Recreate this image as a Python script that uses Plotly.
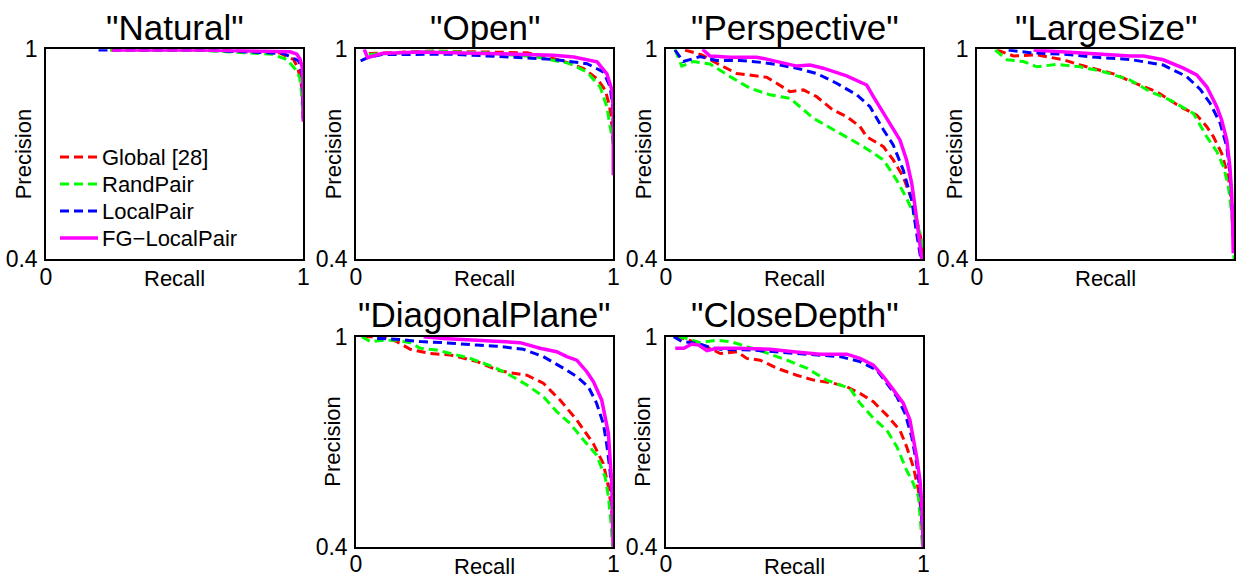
import plotly.graph_objects as go

# ---------------- data ----------------
panel_titles = ['"Natural"', '"Open"', '"Perspective"', '"LargeSize"', '"DiagonalPlane"', '"CloseDepth"']
series_names = ["Global [28]", "RandPair", "LocalPair", "FG\u2212LocalPair"]

# Natural
natural_global_r = [0.25, 0.6, 0.9, 0.962, 0.978, 0.988, 0.996, 1.0]
natural_global_p = [0.998, 0.998, 0.992, 0.971, 0.948, 0.919, 0.88, 0.80]
natural_rand_r = [0.25, 0.6, 0.878, 0.936, 0.969, 0.986, 0.991, 1.0]
natural_rand_p = [0.998, 0.997, 0.986, 0.971, 0.943, 0.919, 0.89, 0.80]
natural_local_r = [0.204, 0.6, 0.923, 0.982, 0.995, 1.0]
natural_local_p = [0.998, 0.998, 0.988, 0.967, 0.929, 0.797]
natural_fg_r = [0.256, 0.6, 0.949, 0.975, 0.988, 0.996, 0.999, 1.0]
natural_fg_p = [0.998, 0.998, 0.993, 0.986, 0.971, 0.948, 0.90, 0.793]

# Open
open_global_r = [0.05, 0.3, 0.665, 0.794, 0.885, 0.937, 0.969, 0.986, 0.995, 1.0]
open_global_p = [0.988, 0.995, 0.99, 0.969, 0.945, 0.916, 0.883, 0.836, 0.778, 0.73]
open_rand_r = [0.05, 0.3, 0.5, 0.703, 0.833, 0.898, 0.949, 0.975, 0.988, 0.999]
open_rand_p = [0.985, 0.995, 0.99, 0.978, 0.959, 0.935, 0.892, 0.836, 0.778, 0.731]
open_local_r = [0.018, 0.045, 0.1, 0.379, 0.768, 0.898, 0.962, 0.988, 0.999, 1.0]
open_local_p = [0.967, 0.976, 0.985, 0.986, 0.971, 0.959, 0.935, 0.892, 0.826, 0.74]
open_fg_r = [0.032, 0.045, 0.1, 0.249, 0.508, 0.768, 0.846, 0.937, 0.975, 0.995, 1.0, 1.0]
open_fg_p = [1.0, 0.976, 0.988, 0.992, 0.988, 0.983, 0.978, 0.964, 0.93, 0.883, 0.826, 0.64]

# Perspective
persp_global_r = [0.074, 0.139, 0.197, 0.275, 0.352, 0.391, 0.43, 0.482, 0.534, 0.585, 0.648, 0.702,
                  0.754, 0.78, 0.845, 0.883, 0.922, 0.955, 0.981, 0.997, 1.0]
persp_global_p = [0.998, 0.984, 0.96, 0.931, 0.924, 0.92, 0.903, 0.879, 0.884, 0.865, 0.827, 0.808,
                  0.779, 0.75, 0.722, 0.684, 0.636, 0.57, 0.493, 0.436, 0.4]
persp_rand_r = [0.035, 0.061, 0.106, 0.171, 0.249, 0.326, 0.404, 0.482, 0.573, 0.663, 0.767, 0.845,
                0.896, 0.935, 0.968, 0.987, 1.0]
persp_rand_p = [1.0, 0.952, 0.965, 0.958, 0.922, 0.889, 0.87, 0.86, 0.803, 0.765, 0.722, 0.684,
                0.627, 0.574, 0.522, 0.474, 0.417]
persp_local_r = [0.035, 0.067, 0.132, 0.197, 0.288, 0.378, 0.443, 0.508, 0.585, 0.663, 0.741, 0.793,
                 0.845, 0.883, 0.922, 0.955, 0.974, 0.99]
persp_local_p = [0.998, 0.965, 0.979, 0.968, 0.968, 0.962, 0.955, 0.946, 0.931, 0.903, 0.87, 0.836,
                 0.77, 0.727, 0.655, 0.57, 0.474, 0.403]
persp_fg_r = [0.142, 0.171, 0.249, 0.352, 0.378, 0.43, 0.508, 0.56, 0.611, 0.702, 0.78, 0.806,
              0.845, 0.883, 0.909, 0.935, 0.955, 0.968, 0.981, 0.994]
persp_fg_p = [1.0, 0.981, 0.977, 0.977, 0.974, 0.965, 0.952, 0.955, 0.946, 0.924, 0.898, 0.865,
              0.817, 0.774, 0.741, 0.684, 0.617, 0.55, 0.474, 0.4]

# LargeSize
large_global_r = [0.078, 0.142, 0.233, 0.337, 0.402, 0.531, 0.622, 0.699, 0.79, 0.855, 0.894, 0.92,
                  0.952, 0.978, 0.991, 0.997, 1.0]
large_global_p = [0.998, 0.981, 0.984, 0.97, 0.955, 0.93, 0.901, 0.879, 0.836, 0.812, 0.779, 0.75,
                  0.703, 0.636, 0.56, 0.474, 0.408]
large_rand_r = [0.071, 0.117, 0.181, 0.233, 0.311, 0.402, 0.492, 0.596, 0.674, 0.751, 0.842, 0.894,
                0.933, 0.959, 0.978, 0.991, 0.997, 1.0]
large_rand_p = [0.998, 0.97, 0.965, 0.95, 0.957, 0.95, 0.936, 0.912, 0.879, 0.855, 0.817, 0.75,
                0.708, 0.665, 0.608, 0.532, 0.455, 0.4]
large_local_r = [0.123, 0.207, 0.337, 0.466, 0.596, 0.725, 0.816, 0.868, 0.907, 0.946, 0.972, 0.984,
                 0.991, 0.997]
large_local_p = [0.998, 0.99, 0.986, 0.977, 0.971, 0.955, 0.922, 0.886, 0.846, 0.789, 0.722, 0.646,
                 0.57, 0.474]
large_fg_r = [0.22, 0.402, 0.596, 0.648, 0.725, 0.803, 0.855, 0.894, 0.933, 0.952, 0.972, 0.984,
              0.991, 0.995, 0.997]
large_fg_p = [0.998, 0.989, 0.981, 0.981, 0.97, 0.946, 0.927, 0.893, 0.836, 0.798, 0.741, 0.665,
              0.589, 0.493, 0.417]

# DiagonalPlane
diag_global_r = [0.03, 0.101, 0.159, 0.211, 0.288, 0.366, 0.47, 0.547, 0.599, 0.664, 0.728, 0.793,
                 0.858, 0.922, 0.961, 0.981, 0.994, 1.0]
diag_global_p = [1.0, 1.0, 0.986, 0.964, 0.952, 0.948, 0.929, 0.905, 0.897, 0.89, 0.867, 0.819,
                 0.762, 0.695, 0.638, 0.571, 0.505, 0.4]
diag_rand_r = [0.023, 0.056, 0.094, 0.159, 0.211, 0.25, 0.314, 0.366, 0.444, 0.534, 0.599, 0.664,
               0.728, 0.78, 0.832, 0.884, 0.935, 0.968, 0.981, 0.991, 0.997]
diag_rand_p = [1.0, 0.986, 0.989, 0.99, 0.983, 0.967, 0.962, 0.952, 0.938, 0.914, 0.89, 0.862,
               0.829, 0.786, 0.752, 0.705, 0.662, 0.6, 0.543, 0.467, 0.4]
diag_local_r = [0.082, 0.172, 0.25, 0.34, 0.47, 0.547, 0.651, 0.728, 0.806, 0.858, 0.903, 0.935,
                0.961, 0.974, 0.987, 0.994, 0.997]
diag_local_p = [0.995, 0.992, 0.986, 0.983, 0.976, 0.973, 0.964, 0.943, 0.91, 0.886, 0.857, 0.81,
                0.752, 0.695, 0.619, 0.552, 0.467]
diag_fg_r = [0.263, 0.34, 0.47, 0.547, 0.638, 0.715, 0.78, 0.819, 0.858, 0.897, 0.923, 0.955,
             0.968, 0.981, 0.987, 0.994, 0.997, 1.0]
diag_fg_p = [1.0, 0.995, 0.99, 0.986, 0.983, 0.967, 0.957, 0.943, 0.933, 0.9, 0.871, 0.819,
             0.771, 0.724, 0.657, 0.581, 0.486, 0.4]

# CloseDepth
close_global_r = [0.036, 0.082, 0.159, 0.211, 0.276, 0.314, 0.366, 0.431, 0.508, 0.573, 0.651, 0.703,
                  0.754, 0.806, 0.858, 0.909, 0.935, 0.961, 0.981, 0.994, 1.0]
close_global_p = [1.0, 0.992, 0.971, 0.952, 0.957, 0.938, 0.933, 0.91, 0.89, 0.876, 0.867, 0.857,
                  0.838, 0.814, 0.776, 0.733, 0.686, 0.629, 0.562, 0.486, 0.4]
close_rand_r = [0.049, 0.082, 0.133, 0.198, 0.25, 0.314, 0.379, 0.47, 0.547, 0.625, 0.715, 0.754,
                0.806, 0.858, 0.897, 0.935, 0.961, 0.981, 0.991, 0.997]
close_rand_p = [1.0, 0.995, 0.983, 0.99, 0.986, 0.971, 0.957, 0.933, 0.91, 0.876, 0.852, 0.81,
                0.767, 0.733, 0.686, 0.619, 0.581, 0.543, 0.467, 0.4]
close_local_r = [0.03, 0.062, 0.12, 0.166, 0.211, 0.34, 0.47, 0.573, 0.676, 0.754, 0.819, 0.858,
                 0.897, 0.929, 0.955, 0.974, 0.987, 0.994, 1.0]
close_local_p = [1.0, 0.986, 0.981, 0.971, 0.964, 0.962, 0.954, 0.948, 0.943, 0.929, 0.905, 0.867,
                 0.829, 0.781, 0.714, 0.638, 0.562, 0.486, 0.4]
close_fg_r = [0.036, 0.069, 0.101, 0.127, 0.159, 0.198, 0.276, 0.405, 0.495, 0.599, 0.703, 0.754,
              0.806, 0.845, 0.884, 0.922, 0.948, 0.961, 0.974, 0.987, 0.994, 1.0]
close_fg_p = [0.967, 0.967, 0.979, 0.976, 0.96, 0.967, 0.967, 0.964, 0.957, 0.95, 0.95, 0.938,
              0.919, 0.886, 0.848, 0.81, 0.762, 0.714, 0.657, 0.59, 0.524, 0.4]

x_tickvals = [0, 1]
x_ticktext = ["0", "1"]
y_tickvals = [0.4, 1]
y_ticktext = ["0.4", "1"]

panels = [
    [(natural_global_r, natural_global_p), (natural_rand_r, natural_rand_p),
     (natural_local_r, natural_local_p), (natural_fg_r, natural_fg_p)],
    [(open_global_r, open_global_p), (open_rand_r, open_rand_p),
     (open_local_r, open_local_p), (open_fg_r, open_fg_p)],
    [(persp_global_r, persp_global_p), (persp_rand_r, persp_rand_p),
     (persp_local_r, persp_local_p), (persp_fg_r, persp_fg_p)],
    [(large_global_r, large_global_p), (large_rand_r, large_rand_p),
     (large_local_r, large_local_p), (large_fg_r, large_fg_p)],
    [(diag_global_r, diag_global_p), (diag_rand_r, diag_rand_p),
     (diag_local_r, diag_local_p), (diag_fg_r, diag_fg_p)],
    [(close_global_r, close_global_p), (close_rand_r, close_rand_p),
     (close_local_r, close_local_p), (close_fg_r, close_fg_p)],
]

# ---------------- styles / layout ----------------
W, H = 1236, 576
colors = ["#FF0000", "#00FF00", "#0000FF", "#FF00FF"]
dashes = ["9px,5px", "9px,5px", "9px,5px", "solid"]
widths = [3, 3, 3, 3.5]
FONT = "Liberation Sans, Arial, Helvetica, sans-serif"

col_px = [(46, 303.3), (356, 613.3), (666, 923.3), (977, 1234)]
row_px = [(49.3, 259.3), (336.7, 546.7)]
placement = [(0, 0), (0, 1), (0, 2), (0, 3), (1, 1), (1, 2)]

fig = go.Figure()
layout = dict(width=W, height=H, autosize=False,
              margin=dict(l=0, r=0, t=0, b=0, pad=0, autoexpand=False),
              paper_bgcolor="white", plot_bgcolor="white", showlegend=False,
              font=dict(family=FONT, color="black", size=22))
annotations = []
shapes = []

for i, (rowi, coli) in enumerate(placement):
    k = i + 1
    xs = "" if k == 1 else str(k)
    x0, x1 = col_px[coli]
    t, b = row_px[rowi]
    layout["xaxis" + xs] = dict(domain=[x0 / W, x1 / W], range=[0, 1], anchor="y" + xs,
                                showgrid=False, zeroline=False, showline=True, mirror=True,
                                linecolor="black", linewidth=1.5, ticks="", automargin=False,
                                tickvals=x_tickvals, ticktext=x_ticktext,
                                tickfont=dict(size=23), ticklabelstandoff=-4)
    layout["yaxis" + xs] = dict(domain=[1 - b / H, 1 - t / H], range=[0.4, 1], anchor="x" + xs,
                                showgrid=False, zeroline=False, showline=True, mirror=True,
                                linecolor="black", linewidth=1.5, ticks="", automargin=False,
                                tickvals=y_tickvals, ticktext=y_ticktext,
                                tickfont=dict(size=23), ticklabelstandoff=2)
    for s, (r, p) in enumerate(panels[i]):
        fig.add_trace(go.Scatter(x=r, y=p, mode="lines", name=series_names[s],
                                 showlegend=False, hoverinfo="skip",
                                 line=dict(color=colors[s], width=widths[s], dash=dashes[s]),
                                 xaxis="x" + xs, yaxis="y" + xs))
    ph = b - t
    pw = x1 - x0
    annotations.append(dict(text=panel_titles[i], xref="x" + xs + " domain", yref="y" + xs + " domain",
                            x=0.5, y=1 + 22.0 / ph, xanchor="center", yanchor="middle",
                            showarrow=False, font=dict(size=35)))
    annotations.append(dict(text="Recall", xref="x" + xs + " domain", yref="y" + xs + " domain",
                            x=0.5, y=-19.5 / ph, xanchor="center", yanchor="middle",
                            showarrow=False, font=dict(size=22)))
    annotations.append(dict(text="Precision", xref="x" + xs + " domain", yref="y" + xs + " domain",
                            x=-23.0 / pw, y=0.5, textangle=-90,
                            xanchor="center", yanchor="middle", showarrow=False, font=dict(size=22)))

# manual legend inside the first panel
legend_rows_px = [157, 184, 211, 238]
for s in range(4):
    yy = 1 - legend_rows_px[s] / H
    shapes.append(dict(type="line", xref="paper", yref="paper",
                       x0=60 / W, x1=98 / W, y0=yy, y1=yy,
                       line=dict(color=colors[s], width=widths[s], dash=dashes[s])))
    annotations.append(dict(text=series_names[s], xref="paper", yref="paper",
                            x=100 / W, y=yy, xanchor="left", yanchor="middle",
                            showarrow=False, font=dict(size=22)))

layout["annotations"] = annotations
layout["shapes"] = shapes
fig.update_layout(**layout)
fig.write_html("out.html", config={"displayModeBar": False},
               post_script="document.body.style.margin='0';document.body.style.padding='0';"
                           "document.body.style.overflow='hidden';")
